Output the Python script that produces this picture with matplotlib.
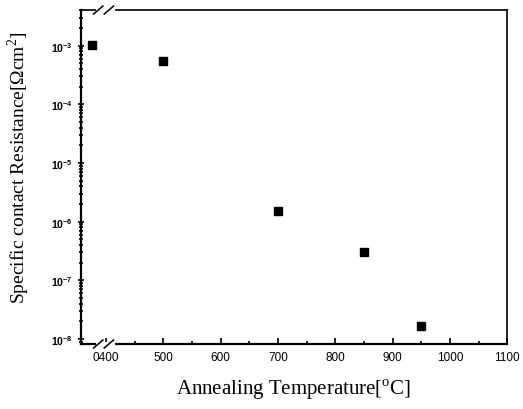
import matplotlib

matplotlib.use("Agg")
import matplotlib.pyplot as plt
from matplotlib.ticker import FixedLocator, NullFormatter

SERIF = "Liberation Serif"
SANS = "Liberation Sans"
plt.rcParams["mathtext.fontset"] = "custom"
plt.rcParams["mathtext.rm"] = SERIF
plt.rcParams["mathtext.bf"] = SANS + ":bold"

# annealing temperature [C] vs specific contact resistance [Ohm cm^2]
temps = [376, 500, 700, 850, 950]
resistance = [1.04e-3, 5.5e-4, 1.5e-6, 3.1e-7, 1.7e-8]

x_ticks = [400, 500, 600, 700, 800, 900, 1000, 1100]
x_ticklabels = ["0400", "500", "600", "700", "800", "900", "1000", "1100"]
y_ticks = [1e-3, 1e-4, 1e-5, 1e-6, 1e-7, 1e-8]
y_ticklabels = [r"$\mathbf{10^{-3}}$", r"$\mathbf{10^{-4}}$", r"$\mathbf{10^{-5}}$",
                r"$\mathbf{10^{-6}}$", r"$\mathbf{10^{-7}}$", r"$\mathbf{10^{-8}}$"]

fig = plt.figure(figsize=(5.23, 4.10), dpi=100)
ax = fig.add_axes([0.1543, 0.1585, 0.8157, 0.8145])

ax.plot(temps, resistance, "s", color="black", markersize=6, linestyle="none")

ax.set_yscale("log")
ax.set_xlim(355.5, 1100)
ax.set_ylim(10 ** -8.085, 10 ** -2.392)

ax.xaxis.set_major_locator(FixedLocator(x_ticks))
ax.set_xticklabels(x_ticklabels, fontfamily=SANS, fontsize=8.5)
ax.xaxis.set_minor_locator(FixedLocator([t + 50 for t in x_ticks[:-1]]))
ax.set_yticks(y_ticks)
ax.set_yticklabels(y_ticklabels, fontsize=7.5)
minor_y = [m * d for d in [1e-9, 1e-8, 1e-7, 1e-6, 1e-5, 1e-4, 1e-3] for m in range(2, 10)]
ax.yaxis.set_minor_locator(FixedLocator(minor_y))
ax.yaxis.set_minor_formatter(NullFormatter())

ax.tick_params(which="both", direction="in", top=False, right=False, width=1.2)
ax.tick_params(which="major", length=4)
ax.tick_params(which="minor", length=2.5)
ax.tick_params(axis="y", which="both", direction="inout")
ax.tick_params(axis="x", pad=5)

for side in ["left", "bottom"]:
    ax.spines[side].set_linewidth(1.6)
for side in ["top", "right"]:
    ax.spines[side].set_linewidth(1.2)

# axis break marks at top and bottom
for yf in (0.0, 1.0):
    ax.plot([0.04, 0.075], [yf, yf], transform=ax.transAxes, color="white",
            linewidth=3, clip_on=False, zorder=5)
    for x0 in (0.03, 0.055):
        ax.plot([x0, x0 + 0.022], [yf - 0.012, yf + 0.012], transform=ax.transAxes,
                color="black", linewidth=1.1, clip_on=False, zorder=6)

ax.set_xlabel(r"Annealing Temperature[$^\mathrm{o}$C]", fontfamily=SERIF,
              fontsize=15, labelpad=10)
ax.set_ylabel(r"Specific contact Resistance[$\Omega$cm$^\mathrm{2}$]",
              fontfamily=SERIF, fontsize=14)
ax.yaxis.set_label_coords(-0.115, 0.53)

fig.savefig("out.png", dpi=100)
